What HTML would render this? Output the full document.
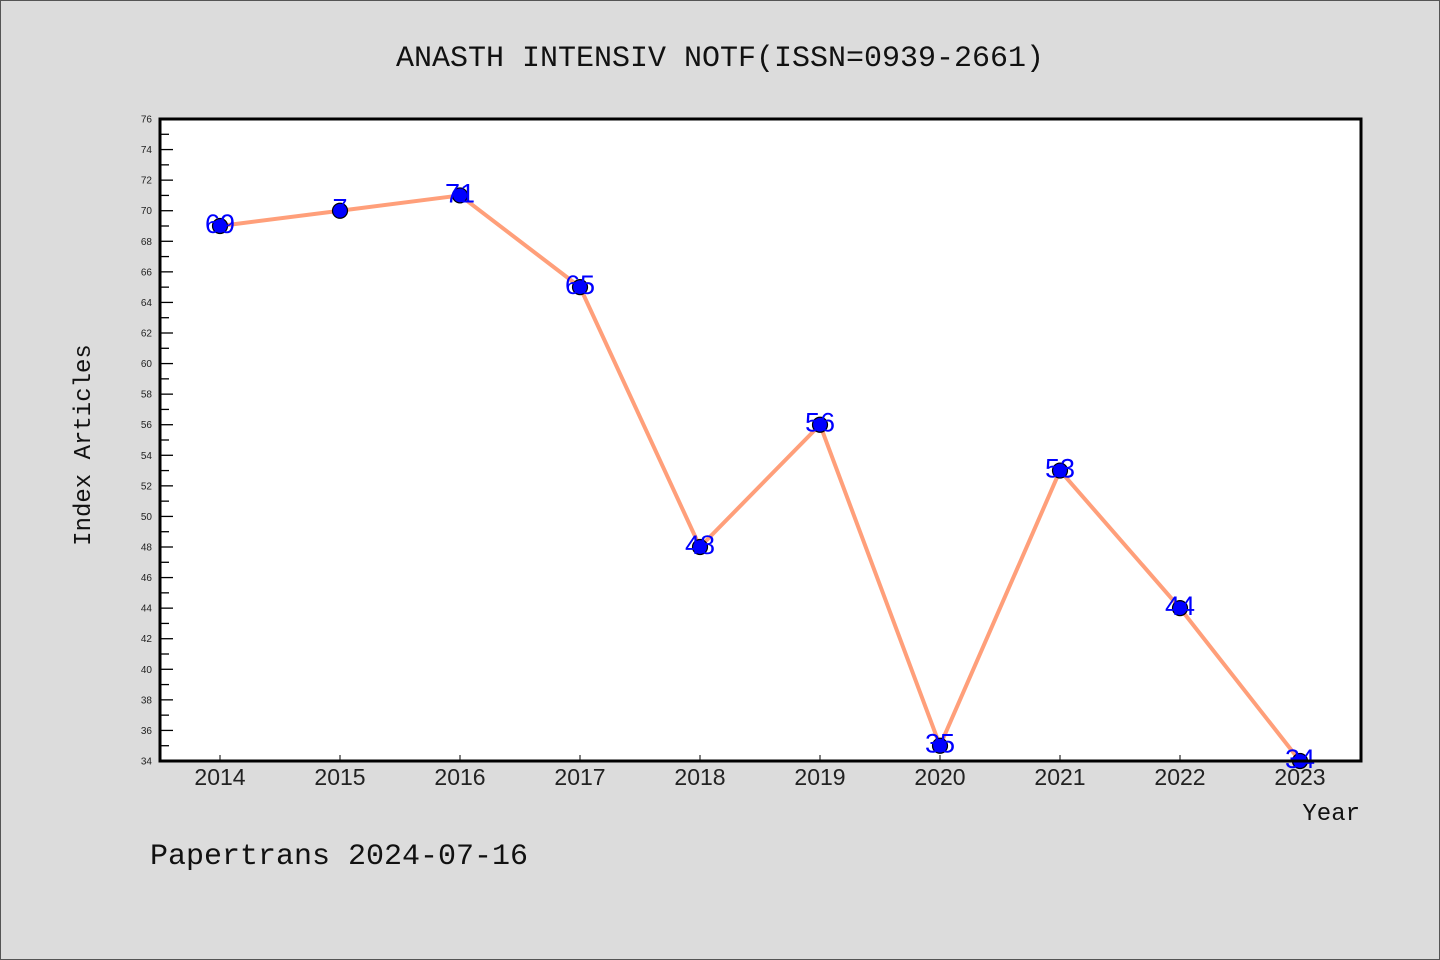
<!DOCTYPE html>
<html><head><meta charset="utf-8"><style>
html,body{margin:0;padding:0;background:#dcdcdc;}
svg{display:block;}
</style></head><body>
<svg id="chart" width="1440" height="960" xmlns="http://www.w3.org/2000/svg">
<rect x="0.5" y="0.5" width="1439" height="959" fill="#dcdcdc" stroke="#555"/>
<text x="720" y="66" text-anchor="middle" font-family="Liberation Mono, monospace" font-size="30" fill="#111">ANASTH INTENSIV NOTF(ISSN=0939-2661)</text>
<rect x="160" y="119" width="1201" height="642" fill="#fff"/>
<g id="axes"></g>
<g id="marks"></g>
<rect x="160" y="119" width="1201" height="642" fill="none" stroke="#000" stroke-width="3"/>
<text x="90" y="445" transform="rotate(-90 90 445)" text-anchor="middle" font-family="Liberation Mono, monospace" font-size="24" fill="#111">Index Articles</text>
<text x="1360" y="820" text-anchor="end" font-family="Liberation Mono, monospace" font-size="24" fill="#111">Year</text>
<text x="150" y="864" font-family="Liberation Mono, monospace" font-size="30" fill="#111">Papertrans 2024-07-16</text>
</svg>
<script>
const years = [2014,2015,2016,2017,2018,2019,2020,2021,2022,2023];
const values = [69,70,71,65,48,56,35,53,44,34];
const pointLabels = ["69","7","71","65","48","56","35","53","44","34"];
const yMin = 34, yMax = 76;
const NS = "http://www.w3.org/2000/svg";
function xs(i){ return 220 + i*120; }
function ys(v){ return 761 - (v - yMin) * (642/(yMax - yMin)); }
function mk(tag, attrs, parent){ const e=document.createElementNS(NS,tag); for(const k in attrs) e.setAttribute(k,attrs[k]); parent.appendChild(e); return e; }
const axes=document.getElementById('axes'), marks=document.getElementById('marks');
for(let v=yMin; v<=yMax; v++){
  const y=ys(v), major=v%2===0;
  const t=mk('line',{x1:160,x2:major?173:169,y1:y,y2:y,stroke:'#000','stroke-width':1.3},axes);
  
  
  if(major){
    const l=mk('text',{x:152,y:y+3.5,'text-anchor':'end','font-family':'Liberation Sans, sans-serif','font-size':10,fill:'#222'},axes);
    l.textContent=v;
    
    
  }
}
years.forEach((yr,i)=>{
  const x=xs(i);
  const t=mk('line',{x1:x,x2:x,y1:761,y2:755,stroke:'#000','stroke-width':1},axes);
  
  
  const l=mk('text',{x:x,y:785,'text-anchor':'middle','font-family':'Liberation Sans, sans-serif','font-size':23,fill:'#222'},axes);
  l.textContent=yr;
  
  
});
const pl=mk('polyline',{points:values.map((v,i)=>xs(i)+','+ys(v)).join(' '),fill:'none',stroke:'#ff9f7a','stroke-width':4,'stroke-linejoin':'round'},marks);


values.forEach((v,i)=>{
  const c=mk('circle',{cx:xs(i),cy:ys(v),r:7.5,fill:'#0000ff',stroke:'#000','stroke-width':1.2},marks);
  
  
  const l=mk('text',{x:xs(i),y:ys(v)+7,'text-anchor':'middle','font-family':'Liberation Sans, sans-serif','font-size':27,fill:'#0000ff'},marks);
  l.textContent=pointLabels[i];
  
  
});
</script>
</body></html>
